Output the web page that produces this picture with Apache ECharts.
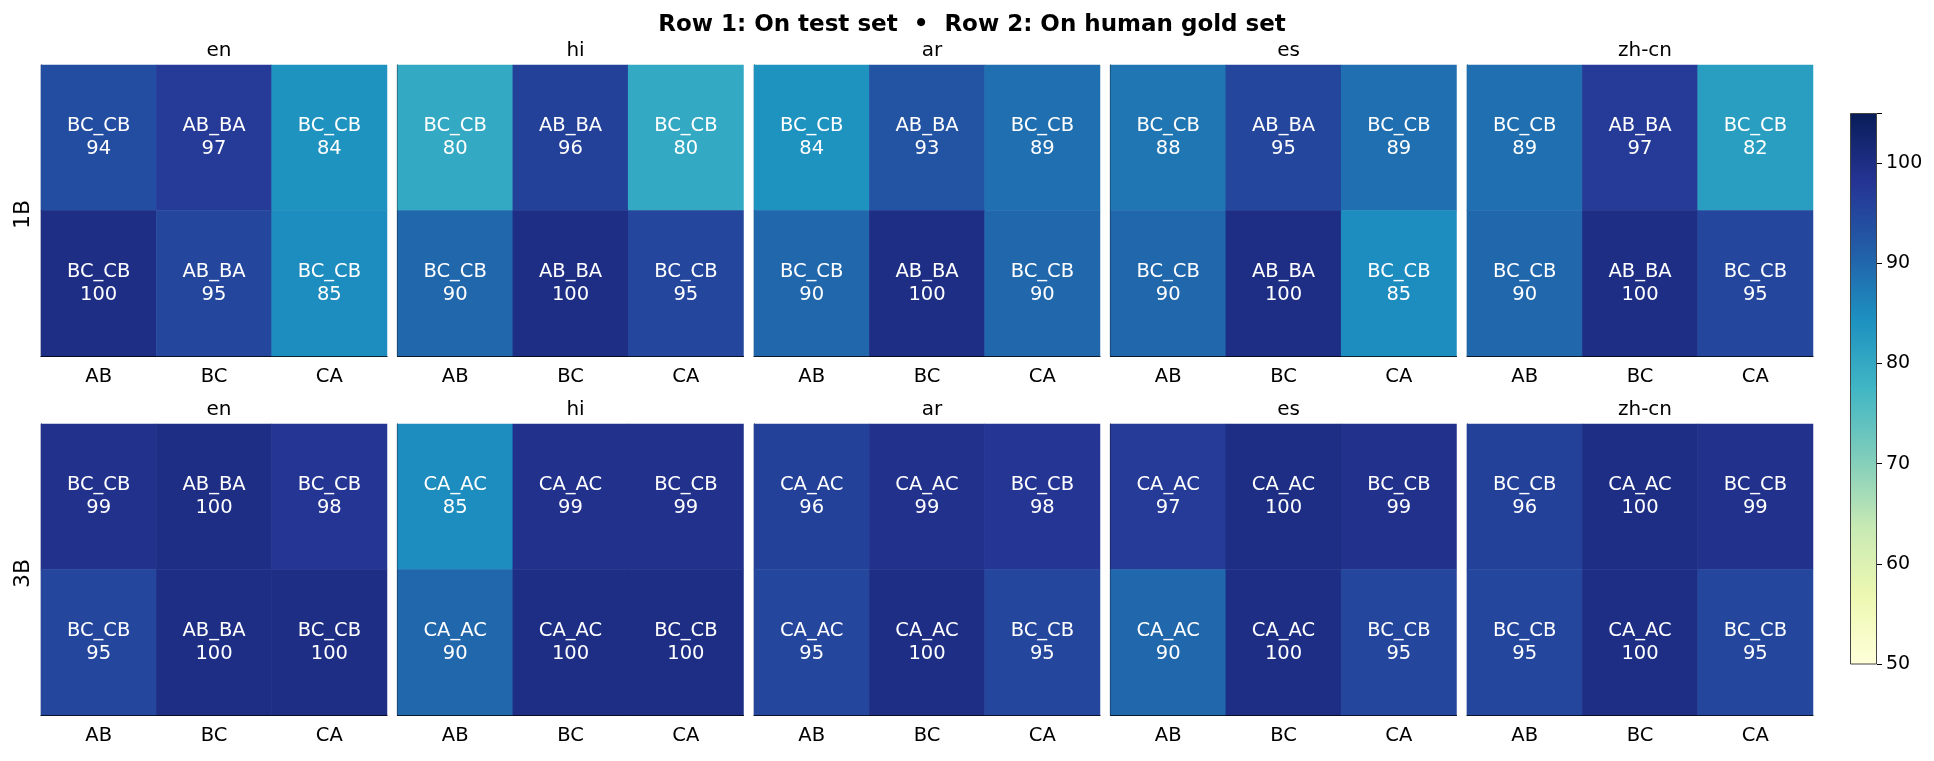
<!DOCTYPE html>
<html>
<head>
    <meta charset="utf-8">
    <script src="https://cdn.jsdelivr.net/npm/echarts@6/dist/echarts.min.js"></script>
    <style>
        html, body { margin: 0; padding: 0; background: #fff; }
        #main { width: 1934px; height: 761px; }
    </style>
</head>
<body>
    <div id="main"></div>
    <script>
        // panels and axes
        var langs = ['en', 'hi', 'ar', 'es', 'zh-cn'];
        var models = ['1B', '3B'];
        var cols = ['AB', 'BC', 'CA'];
        var rows = ['test', 'gold'];
        var cbTicks = [50, 60, 70, 80, 90, 100];

        // row 1 = on test set, row 2 = on human gold set; one entry per language
        var score1BTest = [[94, 97, 84], [80, 96, 80], [84, 93, 89], [88, 95, 89], [89, 97, 82]];
        var score1BGold = [[100, 95, 85], [90, 100, 95], [90, 100, 90], [90, 100, 85], [90, 100, 95]];
        var score3BTest = [[99, 100, 98], [85, 99, 99], [96, 99, 98], [97, 100, 99], [96, 100, 99]];
        var score3BGold = [[95, 100, 100], [90, 100, 100], [95, 100, 95], [90, 100, 95], [95, 100, 95]];

        var pair1BTest = [
            ['BC_CB', 'AB_BA', 'BC_CB'], ['BC_CB', 'AB_BA', 'BC_CB'], ['BC_CB', 'AB_BA', 'BC_CB'],
            ['BC_CB', 'AB_BA', 'BC_CB'], ['BC_CB', 'AB_BA', 'BC_CB']
        ];
        var pair1BGold = [
            ['BC_CB', 'AB_BA', 'BC_CB'], ['BC_CB', 'AB_BA', 'BC_CB'], ['BC_CB', 'AB_BA', 'BC_CB'],
            ['BC_CB', 'AB_BA', 'BC_CB'], ['BC_CB', 'AB_BA', 'BC_CB']
        ];
        var pair3BTest = [
            ['BC_CB', 'AB_BA', 'BC_CB'], ['CA_AC', 'CA_AC', 'BC_CB'], ['CA_AC', 'CA_AC', 'BC_CB'],
            ['CA_AC', 'CA_AC', 'BC_CB'], ['BC_CB', 'CA_AC', 'BC_CB']
        ];
        var pair3BGold = [
            ['BC_CB', 'AB_BA', 'BC_CB'], ['CA_AC', 'CA_AC', 'BC_CB'], ['CA_AC', 'CA_AC', 'BC_CB'],
            ['CA_AC', 'CA_AC', 'BC_CB'], ['BC_CB', 'CA_AC', 'BC_CB']
        ];

        var scores = [[score1BTest, score1BGold], [score3BTest, score3BGold]];
        var pairs = [[pair1BTest, pair1BGold], [pair3BTest, pair3BGold]];

        // YlGnBu
        var ylgnbu = ['#ffffd9', '#edf8b1', '#c7e9b4', '#7fcdbb', '#41b6c4',
                      '#1d91c0', '#225ea8', '#253494', '#081d58'];

        var FONT = 'DejaVu Sans';
        var lefts = [41, 397.5, 754, 1110.5, 1467];
        var tops = [65, 424];
        var W = 346, H = 291;

        var chart = echarts.init(document.getElementById('main'));

        var grids = [], xAxes = [], yAxes = [], series = [], titles = [];
        titles.push({
            text: 'Row 1: On test set  \u2022  Row 2: On human gold set',
            left: 967, top: 9, textAlign: 'center',
            textStyle: { fontFamily: FONT, fontSize: 23, fontWeight: 'bold', color: '#000' }
        });

        models.forEach(function (m, mi) {
            langs.forEach(function (lang, li) {
                var gi = grids.length;
                grids.push({ left: lefts[li], top: tops[mi], width: W, height: H });
                titles.push({
                    text: lang, left: lefts[li] + W / 2, top: tops[mi] - 29, textAlign: 'center',
                    textStyle: { fontFamily: FONT, fontSize: 20, fontWeight: 'normal', color: '#000' }
                });
                xAxes.push({
                    type: 'category', gridIndex: gi, data: cols,
                    axisLine: { lineStyle: { color: '#000', width: 1.2 } },
                    axisTick: { alignWithLabel: true, length: 5, lineStyle: { color: '#000' } },
                    axisLabel: { fontFamily: FONT, fontSize: 19.5, color: '#000', margin: 11 },
                    splitArea: { show: false }
                });
                yAxes.push({
                    type: 'category', gridIndex: gi, data: rows, inverse: true,
                    axisLine: { lineStyle: { color: '#000', width: 1.2 } },
                    axisTick: { show: false },
                    axisLabel: { show: false }
                });
                var data = [];
                rows.forEach(function (r, ri) {
                    cols.forEach(function (c, ci) {
                        data.push({ name: pairs[mi][ri][li][ci], value: [ci, ri, scores[mi][ri][li][ci]] });
                    });
                });
                series.push({
                    type: 'heatmap', xAxisIndex: gi, yAxisIndex: gi, data: data,
                    itemStyle: { borderWidth: 0 },
                    emphasis: { disabled: true },
                    label: {
                        show: true, color: '#fff', fontFamily: FONT, fontSize: 19.5, lineHeight: 23,
                        formatter: function (p) { return p.name + '\n' + p.value[2]; }
                    }
                });
            });
        });

        // colorbar
        var cbIndex = grids.length;
        grids.push({ left: 1850, top: 113, width: 27, height: 551 });
        xAxes.push({ type: 'category', gridIndex: cbIndex, data: ['cb'], show: false });
        yAxes.push({
            type: 'value', gridIndex: cbIndex, min: 50, max: 105, interval: 10, position: 'right',
            splitLine: { show: false },
            axisLine: { show: false },
            axisTick: { show: true, length: 5, lineStyle: { color: '#000' } },
            axisLabel: {
                fontFamily: FONT, fontSize: 19, color: '#000', margin: 9,
                formatter: function (v) { return cbTicks.indexOf(v) >= 0 ? String(v) : ''; }
            }
        });
        series.push({
            type: 'bar', xAxisIndex: cbIndex, yAxisIndex: cbIndex, data: [105],
            barWidth: '100%', silent: true,
            itemStyle: {
                borderColor: '#444', borderWidth: 1,
                color: new echarts.graphic.LinearGradient(0, 1, 0, 0, ylgnbu.map(function (c, i) {
                    return { offset: i / (ylgnbu.length - 1), color: c };
                }))
            }
        });

        var heatIdx = [];
        for (var i = 0; i < 10; i++) heatIdx.push(i);

        chart.setOption({
            animation: false,
            title: titles,
            grid: grids,
            xAxis: xAxes,
            yAxis: yAxes,
            visualMap: {
                type: 'continuous', show: false, min: 50, max: 105,
                seriesIndex: heatIdx,
                inRange: { color: ylgnbu }
            },
            graphic: models.map(function (m, mi) {
                return {
                    type: 'text', x: 23, y: tops[mi] + H / 2 + 4, rotation: Math.PI / 2,
                    style: {
                        text: m, font: '22px "DejaVu Sans"', fill: '#000',
                        align: 'center', verticalAlign: 'middle'
                    }
                };
            }),
            series: series
        });
    </script>
</body>
</html>
